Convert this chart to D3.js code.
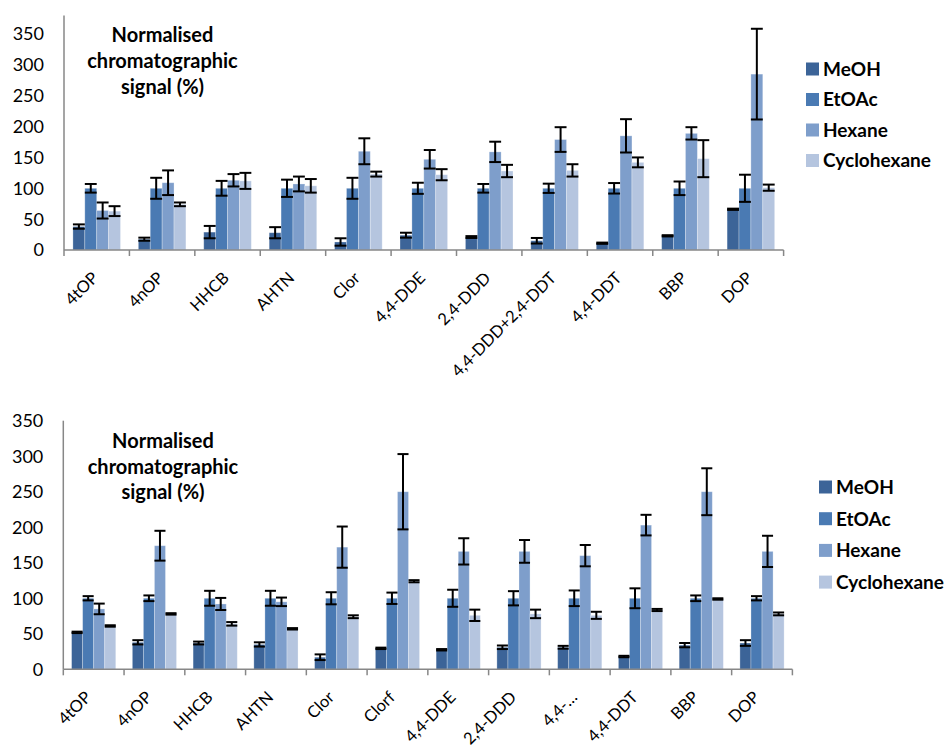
<!DOCTYPE html>
<html>
<head>
<meta charset="utf-8">
<script src="https://cdn.jsdelivr.net/npm/d3@7/dist/d3.min.js"></script>
<style>
  html, body { margin: 0; padding: 0; background: #fff; }
  svg { display: block; font-family: Lato, "Open Sans", sans-serif; }
</style>
</head>
<body>
<svg id="chart" width="951" height="747"></svg>
<script>
// Solvents (series) and their fill colours
const solvents = ["MeOH", "EtOAc", "Hexane", "Cyclohexane"];
const solventColors = ["#3c6498", "#4a7ab3", "#7e9ecb", "#b5c5df"];

// Upper panel
const topCategories = ["4tOP", "4nOP", "HHCB", "AHTN", "Clor", "4,4-DDE", "2,4-DDD",
  "4,4-DDD+2,4-DDT", "4,4-DDT", "BBP", "DOP"];
const topMeOH        = [38, 17.5, 29, 28, 13, 24, 21, 15, 11, 23, 66];
const topMeOHErr     = [3.5, 2.5, 10, 9, 6, 4, 1.5, 4.5, 1, 1, 1];
const topEtOAc       = [100, 100, 100, 100, 100, 100, 100, 100, 100, 100, 100];
const topEtOAcErr    = [7, 17, 12, 14, 17, 9, 7, 7.5, 8.5, 11, 22];
const topHexane      = [64, 109, 113, 107, 160, 147, 159, 179, 185, 189, 285];
const topHexaneErr   = [13, 20, 10, 12, 21, 15, 16.5, 20, 27, 10, 73.5];
const topCyclo       = [63, 74, 112, 104, 123, 122, 128, 129, 142, 148, 101];
const topCycloErr    = [8, 3, 13, 11, 4, 9, 10, 10, 8, 30, 5];

// Lower panel
const bottomCategories = ["4tOP", "4nOP", "HHCB", "AHTN", "Clor", "Clorf", "4,4-DDE",
  "2,4-DDD", "4,4-…", "4,4-DDT", "BBP", "DOP"];
const botMeOH        = [52, 38, 37, 35, 17, 29.5, 27.5, 31, 31, 18, 34, 37];
const botMeOHErr     = [1, 3, 2, 3, 4, 1, 1, 2.5, 2, 1, 3, 4];
const botEtOAc       = [100, 100, 100, 100, 100, 100, 100, 100, 100, 100, 100, 100];
const botEtOAcErr    = [3, 4, 10.5, 10.5, 8.5, 8, 12, 10, 11, 14, 4, 3];
const botHexane      = [85, 174, 92, 95, 172, 250, 166, 166, 160, 203, 250, 166];
const botHexaneErr   = [7.5, 21, 8.5, 6, 29, 53, 18.5, 16, 15, 14.5, 33, 22];
const botCyclo       = [61, 78, 64, 57, 74, 124, 76, 78, 76, 83.5, 99, 78];
const botCycloErr    = [1, 1, 2.5, 1, 2, 1.5, 8, 6, 5, 1.5, 1, 2];

const yTicks = [0, 50, 100, 150, 200, 250, 300, 350];
const titleLines = ["Normalised", "chromatographic", "signal (%)"];

const svg = d3.select("#chart");
const axisColor = "#878787";

function drawPanel(cfg) {
  const g = svg.append("g");
  const x = d3.scaleBand().domain(cfg.categories).range([cfg.x0, cfg.x1])
    .paddingInner(0).paddingOuter(0);
  const y = d3.scaleLinear().domain([0, cfg.yMax]).range([cfg.y0, cfg.yTop]);
  const gap = x.bandwidth() * 0.75 / 5.5;
  const xs = d3.scaleBand().domain(solvents).range([gap, x.bandwidth() - gap])
    .paddingInner(0).paddingOuter(0);

  // series table
  const rows = [];
  cfg.categories.forEach((c, i) => {
    cfg.series.forEach((s, k) => {
      rows.push({ cat: c, solvent: solvents[k], value: s.values[i], err: s.errs[i], color: solventColors[k] });
    });
  });

  // bars
  g.append("g").selectAll("rect").data(rows).join("rect")
    .attr("x", d => x(d.cat) + xs(d.solvent))
    .attr("y", d => y(d.value))
    .attr("width", xs.bandwidth())
    .attr("height", d => y(0) - y(d.value))
    .attr("fill", d => d.color)
    .attr("stroke", "rgba(255,255,255,0.35)")
    .attr("stroke-width", 0.8);

  // error bars
  const eb = g.append("g").attr("stroke", "#000").attr("stroke-width", 2).attr("fill", "none");
  rows.forEach(d => {
    const cx = x(d.cat) + xs(d.solvent) + xs.bandwidth() / 2;
    const hw = xs.bandwidth() / 2;
    const yHi = y(d.value + d.err), yLo = y(d.value - d.err);
    eb.append("line").attr("x1", cx).attr("x2", cx).attr("y1", yHi).attr("y2", yLo);
    eb.append("line").attr("x1", cx - hw).attr("x2", cx + hw).attr("y1", yHi).attr("y2", yHi);
    eb.append("line").attr("x1", cx - hw).attr("x2", cx + hw).attr("y1", yLo).attr("y2", yLo);
  });

  // y axis
  g.append("line").attr("x1", cfg.x0).attr("x2", cfg.x0)
    .attr("y1", y(0)).attr("y2", cfg.yTop)
    .attr("stroke", axisColor).attr("stroke-width", 1.5);
  g.append("g").selectAll("text").data(yTicks).join("text")
    .attr("x", cfg.x0 - 20).attr("y", d => y(d))
    .attr("dy", "0.36em").attr("text-anchor", "end")
    .attr("font-size", 18).attr("fill", "#000")
    .text(d => d);

  // x axis with boundary ticks
  g.append("line").attr("x1", cfg.x0).attr("x2", cfg.x1)
    .attr("y1", y(0)).attr("y2", y(0))
    .attr("stroke", axisColor).attr("stroke-width", 1.5);
  const bounds = cfg.categories.map(c => x(c)).concat([cfg.x1]);
  g.append("g").selectAll("line").data(bounds).join("line")
    .attr("x1", d => d).attr("x2", d => d)
    .attr("y1", y(0)).attr("y2", y(0) + 6)
    .attr("stroke", axisColor).attr("stroke-width", 1.5);
  g.append("g").selectAll("text").data(cfg.categories).join("text")
    .attr("transform", c => `translate(${x(c) + x.bandwidth() / 2 + cfg.labelDx},${y(0) + 29}) rotate(-45)`)
    .attr("text-anchor", "end")
    .attr("font-size", 16.5).attr("fill", "#000")
    .text(c => c);

  // title block inside plot
  g.append("g").selectAll("text").data(titleLines).join("text")
    .attr("x", cfg.titleX).attr("y", (d, i) => cfg.titleY + i * cfg.titleStep)
    .attr("text-anchor", "middle").attr("font-weight", "bold")
    .attr("font-size", 20).attr("fill", "#000")
    .text(d => d);

  // legend
  const lg = g.append("g").selectAll("g").data(solvents).join("g")
    .attr("transform", (d, i) => `translate(${cfg.legendX},${cfg.legendY + i * cfg.legendStep})`);
  lg.append("rect").attr("x", 0).attr("y", -6.5).attr("width", 13).attr("height", 13)
    .attr("fill", (d, i) => solventColors[i]);
  lg.append("text").attr("x", 17).attr("dy", "0.36em")
    .attr("font-weight", "bold").attr("font-size", 19).attr("fill", "#000")
    .text(d => d);
}

drawPanel({
  categories: topCategories,
  series: [
    { values: topMeOH, errs: topMeOHErr },
    { values: topEtOAc, errs: topEtOAcErr },
    { values: topHexane, errs: topHexaneErr },
    { values: topCyclo, errs: topCycloErr }
  ],
  x0: 64, x1: 783.6, y0: 250, yTop: 15.5, yMax: 380, labelDx: 2.5,
  titleX: 162.5, titleY: 41.7, titleStep: 26,
  legendX: 806, legendY: 69, legendStep: 30.5
});

drawPanel({
  categories: bottomCategories,
  series: [
    { values: botMeOH, errs: botMeOHErr },
    { values: botEtOAc, errs: botEtOAcErr },
    { values: botHexane, errs: botHexaneErr },
    { values: botCyclo, errs: botCycloErr }
  ],
  x0: 63.3, x1: 792.4, y0: 669.3, yTop: 420.7, yMax: 350, labelDx: -1.5,
  titleX: 163, titleY: 448.3, titleStep: 25.5,
  legendX: 819, legendY: 487, legendStep: 31.7
});
</script>
</body>
</html>
